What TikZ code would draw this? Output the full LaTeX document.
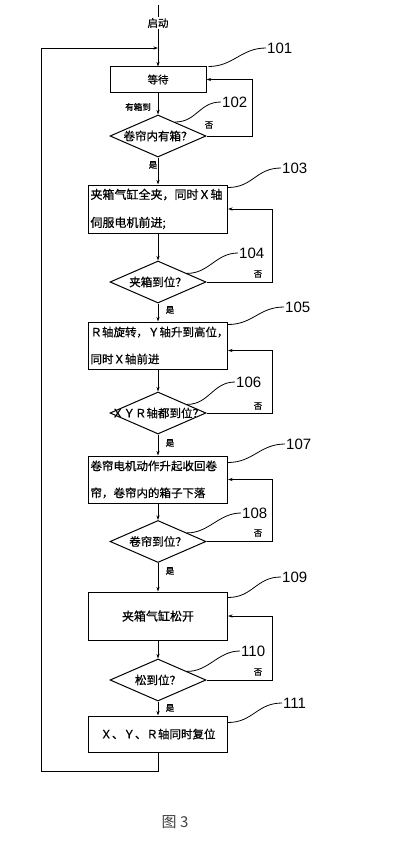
\documentclass[tikz,border=0pt]{standalone}
\usepackage{fontspec}
\setmainfont{Noto Sans CJK SC}[FakeBold=0.7]
\newfontfamily\numfont{Liberation Sans}
\newfontfamily\capfont{Noto Sans CJK SC}
\usetikzlibrary{arrows.meta, shapes.geometric, calc}

\tikzset{
  flow/.style={draw, line width=0.9pt, -{Stealth[length=4.5pt,width=3pt]}},
  lead/.style={draw, line width=0.8pt},
  stepbox/.style={draw, line width=1pt, minimum width=139pt, minimum height=47pt, inner sep=2pt},
  leftbox/.style={stepbox, text width=135pt, align=left, font=\fontsize{11.5}{27}\selectfont},
  checkbox/.style={draw, diamond, line width=1pt, minimum width=96pt, minimum height=42pt, inner sep=0pt},
  qtext/.style={font=\fontsize{11.5}{13}\selectfont},
  tag/.style={anchor=west, inner sep=1pt, font=\numfont\fontsize{15}{17}\selectfont},
  small/.style={inner sep=1pt, font=\fontsize{8.5}{10}\selectfont}
}

\begin{document}
\begin{tikzpicture}[x=1pt, y=-1pt]
  \useasboundingbox (0,0) rectangle (406,851);
  % Schritte
  \node[stepbox, minimum width=96pt, minimum height=25pt, font=\fontsize{10.5}{12}\selectfont] (s101) at (158,79.5) {等待};
  \node[checkbox] (q102) at (158,136) {};
  \node[qtext] at (q102) {卷帘内有箱？};
  \node[leftbox, minimum height=48pt, font=\fontsize{12}{28}\selectfont] (s103) at (158,209) {夹箱气缸全夹，同时Ｘ轴\\伺服电机前进;};
  \node[checkbox] (q104) at (158,282) {};
  \node[qtext] at (q104) {夹箱到位？};
  \node[leftbox] (s105) at (158,345.5) {Ｒ轴旋转，Ｙ轴升到高位，\\同时Ｘ轴前进};
  \node[checkbox] (q106) at (158,413) {};
  \node[qtext] at (q106) {ＸＹＲ轴都到位？};
  \node[leftbox] (s107) at (158,479.5) {卷帘电机动作升起收回卷\\帘，卷帘内的箱子下落};
  \node[checkbox] (q108) at (158,541.5) {};
  \node[qtext] at (q108) {卷帘到位？};
  \node[stepbox, minimum height=48pt, font=\fontsize{12}{14}\selectfont] (s109) at (158,616) {夹箱气缸松开};
  \node[checkbox] (q110) at (158,680) {};
  \node[qtext] at (q110) {松到位？};
  \node[stepbox, minimum height=36pt, font=\fontsize{11.5}{14}\selectfont] (s111) at (158,734) {Ｘ、Ｙ、Ｒ轴同时复位};
  % Ablauf
  \coordinate (top) at (158,5);
  \coordinate (join) at (158,48);
  \coordinate (back) at (41,48);
  \draw[flow] (top) -- (s101.north);
  \node[fill=white, inner sep=1pt, font=\fontsize{10.5}{12}\selectfont] (start) at (158,23) {启动};
  \draw[flow] (s101.south) -- (q102.north);
  \draw[flow] (q102.south) -- (s103.north);
  \draw[flow] (s103.south) -- (q104.north);
  \draw[flow] (q104.south) -- (s105.north);
  \draw[flow] (s105.south) -- (q106.north);
  \draw[flow] (q106.south) -- (s107.north);
  \draw[flow] (s107.south) -- (q108.north);
  \draw[flow] (q108.south) -- (s109.north);
  \draw[flow] (s109.south) -- (q110.north);
  \draw[flow] (q110.south) -- (s111.north);
  \draw[flow] (s111.south) -- ++(0,19) -| (back) -- (join);
  % Schleifen
  \draw[flow] (q102.east) -- ++(46,0) |- (s101.east);
  \draw[flow] (q104.east) -- ++(66,0) |- (s103.east);
  \draw[flow] (q106.east) -- ++(66,0) |- ([yshift=-5pt]s105.east);
  \draw[flow] (q108.east) -- ++(66,0) |- (s107.east);
  \draw[flow] (q110.east) -- ++(66,0) |- (s109.east);
  % Beschriftung
  \node[small] (has) at (138,107) {有箱到};
  \node[small] (y102) at (153,165) {是};
  \node[small] (n102) at (209,125) {否};
  \node[small] (y104) at (170,310) {是};
  \node[small] (n104) at (258,274) {否};
  \node[small] (y106) at (170,443) {是};
  \node[small] (n106) at (258,406) {否};
  \node[small] (y108) at (170,571) {是};
  \node[small] (n108) at (258,533) {否};
  \node[small] (y110) at (170,708) {是};
  \node[small] (n110) at (258,672) {否};
  % Nummern
  \node[tag] (t101) at (266,48) {101};
  \node[tag] (t102) at (221,102) {102};
  \node[tag] (t103) at (281,168) {103};
  \node[tag] (t104) at (238,253) {104};
  \node[tag] (t105) at (284,307) {105};
  \node[tag] (t106) at (235,382) {106};
  \node[tag] (t107) at (285,444) {107};
  \node[tag] (t108) at (241,513) {108};
  \node[tag] (t109) at (281,577) {109};
  \node[tag] (t110) at (240,651) {110};
  \node[tag] (t111) at (282,703) {111};
  \draw[lead] ([xshift=2pt]s101.north east) .. controls +(25,0) and +(-25,0) .. (t101.west);
  \draw[lead] ($(q102.north)!0.35!(q102.east)$) .. controls +(22,0) and +(-22,0) .. (t102.west);
  \draw[lead] ([yshift=-3pt]s103.north east) .. controls +(25,0) and +(-25,0) .. (t103.west);
  \draw[lead] ($(q104.north)!0.6!(q104.east)$) .. controls +(22,0) and +(-22,0) .. (t104.west);
  \draw[lead] ([yshift=-3pt]s105.north east) .. controls +(25,0) and +(-25,0) .. (t105.west);
  \draw[lead] ($(q106.north)!0.6!(q106.east)$) .. controls +(22,0) and +(-22,0) .. (t106.west);
  \draw[lead] ([yshift=-7pt]s107.north east) .. controls +(25,0) and +(-25,0) .. (t107.west);
  \draw[lead] ($(q108.north)!0.6!(q108.east)$) .. controls +(22,0) and +(-22,0) .. (t108.west);
  \draw[lead] ([yshift=-6pt]s109.north east) .. controls +(25,0) and +(-25,0) .. (t109.west);
  \draw[lead] ($(q110.north)!0.6!(q110.east)$) .. controls +(22,0) and +(-22,0) .. (t110.west);
  \draw[lead] ([yshift=-7pt]s111.north east) .. controls +(25,0) and +(-25,0) .. (t111.west);
  % Bildunterschrift
  \node[text=black!75, font=\capfont\fontsize{15}{17}\selectfont] (caption) at (175,822) {图 3};
\end{tikzpicture}
\end{document}
